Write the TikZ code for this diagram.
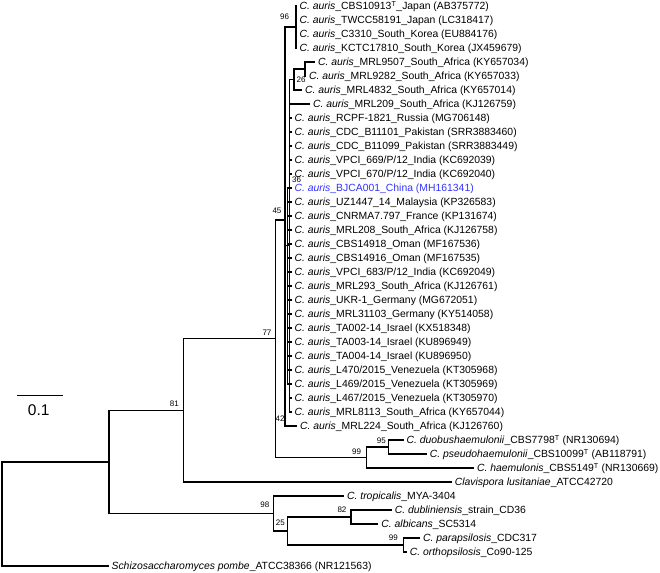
\documentclass[tikz,border=0pt]{standalone}
\usepackage{fontspec}
\setmainfont{Liberation Sans}
\usetikzlibrary{positioning}
\definecolor{cnblue}{RGB}{51,51,255}

\begin{document}
\begin{tikzpicture}[x=1pt, y=-1pt, line width=1.2pt,
  leaf/.style={anchor=west, inner xsep=2.5pt, inner ysep=0pt,
    text height=7.4pt, text depth=0pt, font=\fontsize{10.4}{12}\selectfont},
  boot/.style={inner sep=0.5pt, font=\fontsize{8}{9}\selectfont}]
\useasboundingbox (0,0) rectangle (660,572);

\def\dy{14}
\def\aur{\textit{C. auris}\_}

% columns of the internal nodes
\def\xroot{2}
\def\xa{109}
\def\xb{183.3}
\def\xg{275.5}
\def\xh{285}
\def\xp{287.3}
\def\xm{289.6}
\def\xl{294}
\def\xk{305}
\def\xcomb{296}
\def\xhae{366.7}
\def\xduo{388.3}
\def\xc{273.8}
\def\xd{287.3}
\def\xe{351}
\def\xf{403.3}
\def\xtip{291.5}

\coordinate (root) at (\xroot, 514);
\coordinate (nA) at (\xa, 461.95);
\coordinate (nB) at (\xb, 410.4);
\coordinate (nG) at (\xg, 338.75);
\coordinate (nH) at (\xh, 220);
\coordinate (nI) at (\xcomb, 27);
\coordinate (nM) at (\xm, 245.75);
\coordinate (nL) at (\xl, 79.5);
\coordinate (nK) at (\xk, 69);
\coordinate (nP) at (\xp, 286);
\coordinate (nHae) at (\xhae, 457.5);
\coordinate (nDuo) at (\xduo, 447);
\coordinate (nC) at (\xc, 513.5);
\coordinate (nD) at (\xd, 531);
\coordinate (nE) at (\xe, 517);
\coordinate (nF) at (\xf, 545);

% C. auris leaves
\node[leaf] (l0) at (296.5, 6) {\aur CBS10913\textsuperscript{T}\_Japan (AB375772)};
\node[leaf] (l1) at (296.5, \dy*1+6) {\aur TWCC58191\_Japan (LC318417)};
\node[leaf] (l2) at (296.5, \dy*2+6) {\aur C3310\_South\_Korea (EU884176)};
\node[leaf] (l3) at (296.5, \dy*3+6) {\aur KCTC17810\_South\_Korea (JX459679)};
\node[leaf] (l4) at (315, \dy*4+6) {\aur MRL9507\_South\_Africa (KY657034)};
\node[leaf] (l5) at (306, \dy*5+6) {\aur MRL9282\_South\_Africa (KY657033)};
\node[leaf] (l6) at (302, \dy*6+6) {\aur MRL4832\_South\_Africa (KY657014)};
\node[leaf] (l7) at (310, \dy*7+6) {\aur MRL209\_South\_Africa (KJ126759)};
\node[leaf] (l8) at (\xtip, \dy*8+6) {\aur RCPF-1821\_Russia (MG706148)};
\node[leaf] (l9) at (\xtip, \dy*9+6) {\aur CDC\_B11101\_Pakistan (SRR3883460)};
\node[leaf] (l10) at (\xtip, \dy*10+6) {\aur CDC\_B11099\_Pakistan (SRR3883449)};
\node[leaf] (l11) at (\xtip, \dy*11+6) {\aur VPCI\_669/P/12\_India (KC692039)};
\node[leaf] (l12) at (\xtip, \dy*12+6) {\aur VPCI\_670/P/12\_India (KC692040)};
\node[leaf, text=cnblue] (l13) at (\xtip, \dy*13+6) {\aur BJCA001\_China (MH161341)};
\node[leaf] (l14) at (\xtip, \dy*14+6) {\aur UZ1447\_14\_Malaysia (KP326583)};
\node[leaf] (l15) at (\xtip, \dy*15+6) {\aur CNRMA7.797\_France (KP131674)};
\node[leaf] (l16) at (\xtip, \dy*16+6) {\aur MRL208\_South\_Africa (KJ126758)};
\node[leaf] (l17) at (\xtip, \dy*17+6) {\aur CBS14918\_Oman (MF167536)};
\node[leaf] (l18) at (\xtip, \dy*18+6) {\aur CBS14916\_Oman (MF167535)};
\node[leaf] (l19) at (\xtip, \dy*19+6) {\aur VPCI\_683/P/12\_India (KC692049)};
\node[leaf] (l20) at (\xtip, \dy*20+6) {\aur MRL293\_South\_Africa (KJ126761)};
\node[leaf] (l21) at (\xtip, \dy*21+6) {\aur UKR-1\_Germany (MG672051)};
\node[leaf] (l22) at (\xtip, \dy*22+6) {\aur MRL31103\_Germany (KY514058)};
\node[leaf] (l23) at (\xtip, \dy*23+6) {\aur TA002-14\_Israel (KX518348)};
\node[leaf] (l24) at (\xtip, \dy*24+6) {\aur TA003-14\_Israel (KU896949)};
\node[leaf] (l25) at (\xtip, \dy*25+6) {\aur TA004-14\_Israel (KU896950)};
\node[leaf] (l26) at (\xtip, \dy*26+6) {\aur L470/2015\_Venezuela (KT305968)};
\node[leaf] (l27) at (\xtip, \dy*27+6) {\aur L469/2015\_Venezuela (KT305969)};
\node[leaf] (l28) at (\xtip, \dy*28+6) {\aur L467/2015\_Venezuela (KT305970)};
\node[leaf] (l29) at (\xtip, \dy*29+6) {\aur MRL8113\_South\_Africa (KY657044)};
\node[leaf] (l30) at (297, \dy*30+6) {\aur MRL224\_South\_Africa (KJ126760)};

% other species
\node[leaf] (l31) at (403.5, \dy*31+6) {\textit{C. duobushaemulonii}\_CBS7798\textsuperscript{T} (NR130694)};
\node[leaf] (l32) at (426.7, \dy*32+6) {\textit{C. pseudohaemulonii}\_CBS10099\textsuperscript{T} (AB118791)};
\node[leaf] (l33) at (474, \dy*33+6) {\textit{C. haemulonis}\_CBS5149\textsuperscript{T} (NR130669)};
\node[leaf] (l34) at (451.7, \dy*34+6) {\textit{Clavispora lusitaniae}\_ATCC42720};
\node[leaf] (l35) at (344, \dy*35+6) {\textit{C. tropicalis}\_MYA-3404};
\node[leaf] (l36) at (391.7, \dy*36+6) {\textit{C. dubliniensis}\_strain\_CD36};
\node[leaf] (l37) at (378.3, \dy*37+6) {\textit{C. albicans}\_SC5314};
\node[leaf] (l38) at (420, \dy*38+6) {\textit{C. parapsilosis}\_CDC317};
\node[leaf] (l39) at (406.7, \dy*39+6) {\textit{C. orthopsilosis}\_Co90-125};
\node[leaf] (l40) at (108.5, \dy*40+6) {\textit{Schizosaccharomyces pombe}\_ATCC38366 (NR121563)};

% branches
\draw (root) |- (nA);
\draw (root) |- (l40.west);
\draw (nA) |- (nB);
\draw (nA) |- (nC);
\draw (nB) |- (nG);
\draw (nB) |- (l34.west);
\draw (nG) |- (nH);
\draw (nG) |- (nHae);
\draw (nHae) |- (nDuo);
\draw (nHae) |- (l33.west);
\draw (nDuo) |- (l31.west);
\draw (nDuo) |- (l32.west);
\draw (nC) |- (l35.west);
\draw (nC) |- (nD);
\draw (nD) |- (nE);
\draw (nD) |- (nF);
\draw (nE) |- (l36.west);
\draw (nE) |- (l37.west);
\draw (nF) |- (l38.west);
\draw (nF) |- (l39.west);

\draw (nH) |- (nI);
\draw (nH) |- (nM);
\draw (nH) |- (l30.west);
\foreach \i in {0,...,3} \draw (nI) |- (l\i.west);
\draw (nM) |- (nL);
\draw (nM) |- (l7.west);
\draw (nM) |- (nP);
\foreach \i in {8,...,12,28,29} \draw (nM) |- (l\i.west);
\foreach \i in {13,...,27} \draw (nP) |- (l\i.west);
\draw (nL) |- (nK);
\draw (nL) |- (l6.west);
\draw (nK) |- (l4.west);
\draw (nK) |- (l5.west);

% bootstrap values
\node[boot, above left=3pt and 3.5pt of nB] (b81) {81};
\node[boot, above left=2pt and 3pt of nG] (b77) {77};
\node[boot, above left=5pt and 2.5pt of nH] (b45) {45};
\node[boot] (b96) at (284.5, 17) {96};
\node[boot] (b26) at (301, 79.5) {26};
\node[boot] (b36) at (296.5, 179.5) {36};
\node[boot] (b42) at (280, 419) {42};
\node[boot, above left=2pt and 1.5pt of nDuo] (b95) {95};
\node[boot, above left=2pt and 4.5pt of nHae] (b99a) {99};
\node[boot, above left=5pt and 3.5pt of nC] (b98) {98};
\node[boot, above left=4pt and 1.5pt of nD] (b25) {25};
\node[boot, above left=3pt and 3.5pt of nE] (b82) {82};
\node[boot, above left=3pt and 4.5pt of nF] (b99b) {99};

% scale bar
\coordinate (sbl) at (17.3, 395.3);
\coordinate (sbr) at (62.7, 395.3);
\draw (sbl) -- (sbr);
\node[font=\fontsize{15.5}{18}\selectfont, inner sep=0pt] (sbt) at (38.7, 410.5) {0.1};

\end{tikzpicture}
\end{document}
